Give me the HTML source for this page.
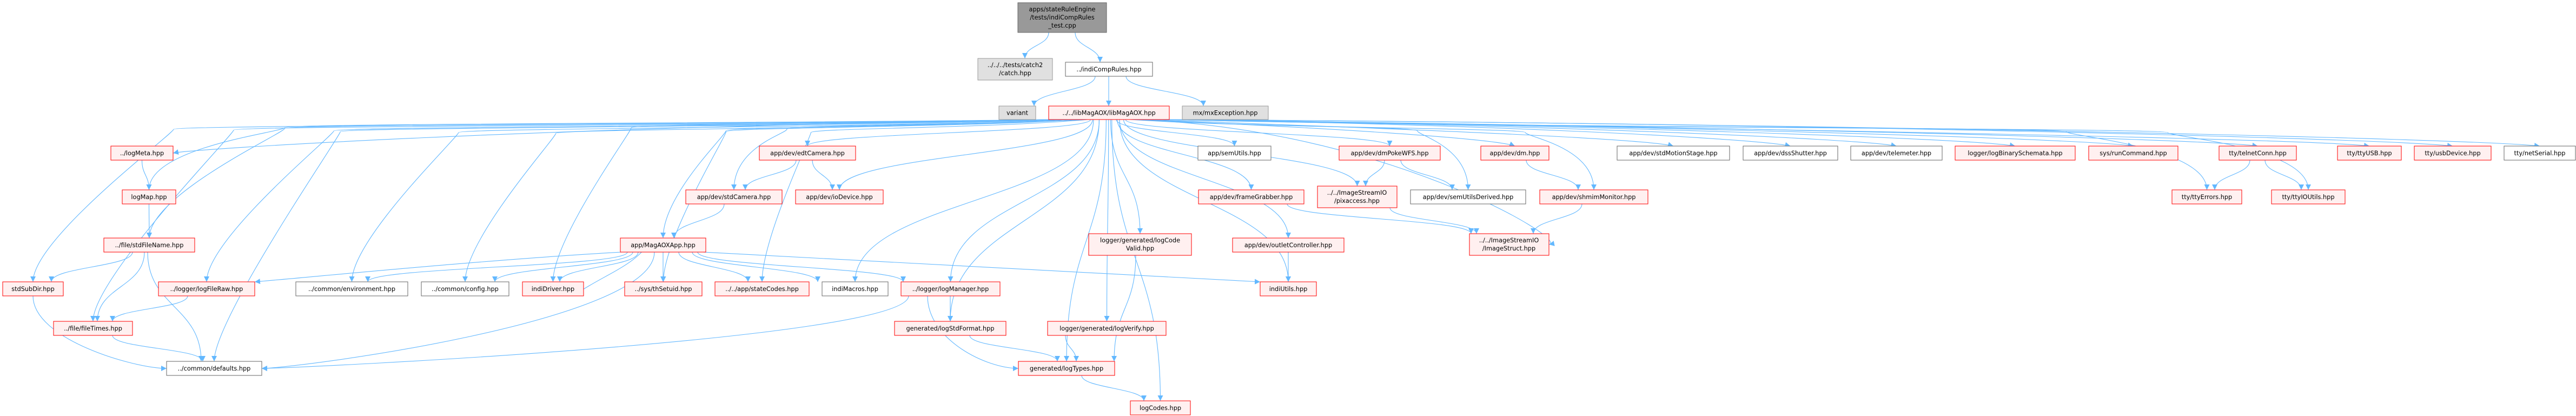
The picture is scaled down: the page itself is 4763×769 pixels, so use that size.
<!DOCTYPE html>
<html><head><meta charset="utf-8">
<style>
html,body{margin:0;padding:0;background:#fff;}
svg{display:block;}
text{font-family:"DejaVu Sans","Liberation Sans",sans-serif;font-size:11.3px;fill:#000;}
</style></head>
<body>
<svg id="g" width="4763" height="769" viewBox="0 0 4763 769" xmlns="http://www.w3.org/2000/svg">
<defs>
<marker id="ah" markerWidth="11" markerHeight="10" refX="10" refY="5" orient="auto" markerUnits="userSpaceOnUse">
<path d="M0,0 L10,5 L0,10 z" fill="#63b8ff"/>
</marker>
</defs>
<g id="edges" fill="none" stroke="#63b8ff" stroke-width="1.1"></g>
<g id="nodes">
<g id="top"><rect x="1882" y="5" width="164" height="55" fill="#999999" stroke="#666666"/><text x="1964" y="21" text-anchor="middle">apps/stateRuleEngine</text><text x="1964" y="36" text-anchor="middle">/tests/indiCompRules</text><text x="1964" y="51" text-anchor="middle">_test.cpp</text></g>
<g><rect x="1808" y="108" width="138" height="40" fill="#e0e0e0" stroke="#999999"/><text x="1877" y="124" text-anchor="middle">../../../tests/catch2</text><text x="1877" y="139" text-anchor="middle">/catch.hpp</text></g>
<g><rect x="2436" y="344" width="147" height="40" fill="#fff0f0" stroke="#ff0000"/><text x="2509" y="360" text-anchor="middle">../../ImageStreamIO</text><text x="2509" y="375" text-anchor="middle">/pixaccess.hpp</text></g>
<g><rect x="2717" y="432" width="147" height="40" fill="#fff0f0" stroke="#ff0000"/><text x="2790" y="448" text-anchor="middle">../../ImageStreamIO</text><text x="2790" y="463" text-anchor="middle">/ImageStruct.hpp</text></g>
<g><rect x="2013" y="432" width="190" height="40" fill="#fff0f0" stroke="#ff0000"/><text x="2108" y="448" text-anchor="middle">logger/generated/logCode</text><text x="2108" y="463" text-anchor="middle">Valid.hpp</text></g>
</g>
</svg>
<script>
(function(){
var NS="http://www.w3.org/2000/svg";
var svg=document.getElementById('g');
var E=document.getElementById('edges'), Nd=document.getElementById('nodes');
// id, x1, x2, y, h, label, style
var N={
top:[1882,2046,5,55],catch_:[1808,1946,108,40],pix:[2436,2583,344,40],istruct:[2717,2864,432,40],lcv:[2013,2203,432,40]
};
var list=[
['icr',1970,2131,115,26,'../indiCompRules.hpp','w'],
['variant',1847,1915,196,25,'variant','g'],
['lib',1939,2162,196,25,'../../libMagAOX/libMagAOX.hpp','r'],
['mx',2186,2345,196,25,'mx/mxException.hpp','g'],
['logMeta',205,320,270,26,'../logMeta.hpp','r'],
['edt',1404,1582,270,26,'app/dev/edtCamera.hpp','r'],
['semU',2215,2350,270,26,'app/semUtils.hpp','w'],
['dmp',2476,2663,270,26,'app/dev/dmPokeWFS.hpp','r'],
['dm',2738,2864,270,26,'app/dev/dm.hpp','r'],
['sms',2990,3198,270,26,'app/dev/stdMotionStage.hpp','w'],
['dss',3223,3398,270,26,'app/dev/dssShutter.hpp','w'],
['tel',3422,3591,270,26,'app/dev/telemeter.hpp','w'],
['lbs',3615,3837,270,26,'logger/logBinarySchemata.hpp','r'],
['run',3862,4027,270,26,'sys/runCommand.hpp','r'],
['telnet',4103,4246,270,26,'tty/telnetConn.hpp','r'],
['usb',4322,4440,270,26,'tty/ttyUSB.hpp','r'],
['usbd',4464,4606,270,26,'tty/usbDevice.hpp','r'],
['net',4630,4762,270,26,'tty/netSerial.hpp','w'],
['logMap',226,325,351,26,'logMap.hpp','r'],
['stdCam',1268,1446,351,26,'app/dev/stdCamera.hpp','r'],
['io',1471,1633,351,26,'app/dev/ioDevice.hpp','r'],
['fg',2216,2411,351,26,'app/dev/frameGrabber.hpp','r'],
['sud',2608,2821,351,26,'app/dev/semUtilsDerived.hpp','w'],
['shm',2847,3047,351,26,'app/dev/shmimMonitor.hpp','r'],
['ttyE',4016,4145,351,26,'tty/ttyErrors.hpp','r'],
['ttyIO',4200,4336,351,26,'tty/ttyIOUtils.hpp','r'],
['sfn',192,360,440,26,'../file/stdFileName.hpp','r'],
['app',1147,1305,440,26,'app/MagAOXApp.hpp','r'],
['outlet',2279,2485,440,26,'app/dev/outletController.hpp','r'],
['ssd',5,117,521,26,'stdSubDir.hpp','r'],
['lfr',293,471,521,26,'../logger/logFileRaw.hpp','r'],
['env',547,754,521,26,'../common/environment.hpp','w'],
['cfg',779,941,521,26,'../common/config.hpp','w'],
['idrv',966,1079,521,26,'indiDriver.hpp','r'],
['ths',1155,1298,521,26,'../sys/thSetuid.hpp','r'],
['sc',1322,1496,521,26,'../../app/stateCodes.hpp','r'],
['imac',1520,1642,521,26,'indiMacros.hpp','w'],
['lm',1666,1849,521,26,'../logger/logManager.hpp','r'],
['iu',2330,2434,521,26,'indiUtils.hpp','r'],
['ft',99,245,594,26,'../file/fileTimes.hpp','r'],
['lsf',1654,1860,594,26,'generated/logStdFormat.hpp','r'],
['lv',1937,2156,594,26,'logger/generated/logVerify.hpp','r'],
['def',308,484,668,26,'../common/defaults.hpp','w'],
['lt',1883,2061,668,26,'generated/logTypes.hpp','r'],
['lc',2090,2201,741,26,'logCodes.hpp','r']
];
var st={r:['#fff0f0','#ff0000'],w:['#ffffff','#666666'],g:['#e0e0e0','#999999']};
list.forEach(function(n){
  N[n[0]]=[n[1],n[2],n[3],n[4]];
  var r=document.createElementNS(NS,'rect');
  r.setAttribute('x',n[1]);r.setAttribute('y',n[3]);r.setAttribute('width',n[2]-n[1]);r.setAttribute('height',n[4]);
  r.setAttribute('fill',st[n[6]][0]);r.setAttribute('stroke',st[n[6]][1]);
  Nd.appendChild(r);
  var t=document.createElementNS(NS,'text');
  t.setAttribute('x',(n[1]+n[2])/2);t.setAttribute('y',n[3]+n[4]/2+4);t.setAttribute('text-anchor','middle');
  t.textContent=n[5];Nd.appendChild(t);
});
N.catch=N.catch_;
function cx(n){return (N[n][0]+N[n][1])/2;}
function bot(n){return N[n][2]+N[n][3];}
function topy(n){return N[n][2];}
function path(d){var p=document.createElementNS(NS,'path');p.setAttribute('d',d);p.setAttribute('marker-end','url(#ah)');E.appendChild(p);}
function e(a,b,o){
  o=o||{};
  var x0=o.sx!==undefined?o.sx:cx(a)+(o.dx||0), y0=bot(a);
  var x1,y1;
  if(o.side==='r'){x1=N[b][1];y1=N[b][2]+N[b][3]/2;}
  else if(o.side==='l'){x1=N[b][0];y1=N[b][2]+N[b][3]/2;}
  else {x1=o.tx!==undefined?o.tx:cx(b)+(o.tdx||0);y1=topy(b);}
  var d;
  if(o.c) d='M'+x0+','+y0+' C'+o.c.join(' ')+' '+x1+','+y1;
  else if(o.side){var m=(y1-y0);d='M'+x0+','+y0+' C'+x0+','+(y0+m*0.6)+' '+(x1+(o.side==='r'?60:-60))+','+y1+' '+x1+','+y1;}
  else {var m=(y1-y0)*0.5;d='M'+x0+','+y0+' C'+x0+','+(y0+m)+' '+x1+','+(y1-m)+' '+x1+','+y1;}
  path(d);
}
// lib edges: flat along top then down
function le(b,o){
  o=o||{};
  var tx=o.tx!==undefined?o.tx:cx(b);
  var sx=Math.max(1945,Math.min(2156,2050+(tx-2050)*0.06));
  var x1=tx,y1=topy(b);
  if(o.side==='r'){x1=N[b][1];y1=N[b][2]+N[b][3]/2;}
  var dx=x1-sx, far=Math.abs(dx)>600;
  var d;
  if(o.side==='r'){ d='M'+sx+','+221+' C'+(sx+dx*0.6)+',236 '+(x1+40)+','+(y1-8)+' '+x1+','+y1; }
  else if(far){
    var by=228+(o.lane||0);
    var bend=x1+(sx>x1?1:-1)*Math.min(260,Math.abs(dx)*0.15);
    d='M'+sx+',221 C'+(sx+dx*0.3)+','+by+' '+(bend)+','+by+' '+(bend)+','+(by+8)+' S'+x1+','+(Math.max(by+30,y1-80))+' '+x1+','+y1;
    if(y1<=280) d='M'+sx+',221 C'+(sx+dx*0.5)+','+(by)+' '+(x1-dx*0.05)+','+(y1-14)+' '+x1+','+y1;
  } else {
    var m=(y1-221)*0.5;
    d='M'+sx+',221 C'+sx+','+(221+m)+' '+x1+','+(y1-m)+' '+x1+','+y1;
  }
  path(d);
}
e('top','catch',{sx:1939,tx:1895});
e('top','icr',{sx:1988,tx:2034});
e('icr','variant',{sx:2025,tx:1912});
e('icr','lib',{sx:2050,tx:2050});
e('icr','mx',{sx:2082,tx:2225});
var libT=['logMeta','logMap','sfn','ssd','ft','lfr','def','env','cfg','idrv','edt','stdCam','io','app','ths','sc','imac','lm','lsf','lt','lv','lcv','lc','outlet','iu','semU','fg','pix','dmp','sud','dm','shm','sms','dss','tel','lbs','run','telnet','ttyE','ttyIO','usb','usbd','net'];
var lane=0;
libT.forEach(function(b){
  if(b==='logMeta'){le(b,{side:'r'});return;}
  le(b,{lane:(lane++%8)*1.5});
});
le('istruct',{side:'r'});
e('logMeta','logMap');
e('logMap','sfn');
e('sfn','ssd',{sx:245,tx:95});
e('sfn','ft',{sx:267,tx:180});
e('sfn','def',{sx:273,tx:372});
e('ssd','def',{side:'l'});
e('lfr','ft',{sx:347,tx:208});
e('ft','def',{sx:208,tx:375});
e('edt','stdCam',{sx:1472,tx:1378});
e('edt','io',{sx:1502,tx:1539});
e('stdCam','app',{sx:1339,tx:1246});
e('app','env',{sx:1160,tx:680});
e('app','cfg',{sx:1170,tx:915});
e('app','idrv',{sx:1180,tx:1035});
e('idrv','app',{sx:1060,tx:1205,c:[1120,505,1180,490]});
e('app','def',{sx:1210,side:'r'});
e('app','ths',{sx:1226,tx:1226});
e('app','sc',{sx:1255,tx:1383});
e('app','imac',{sx:1280,tx:1512});
e('app','lm',{sx:1290,tx:1670});
e('app','iu',{sx:1300,tx:2330,c:[1800,490,2300,520]});
e('app','lfr',{sx:1150,tx:471,c:[900,480,600,510]});
e('lm','lsf',{sx:1757,tx:1757});
e('lm','lt',{sx:1715,side:'l'});
e('lm','def',{sx:1680,side:'r'});
e('lsf','lt',{sx:1793,tx:1955});
e('lv','lt',{sx:1970,tx:1990});
e('lcv','lt',{sx:2100,tx:2060});
e('lt','lc',{sx:2000,tx:2115});
e('dmp','pix',{sx:2560,tx:2525});
e('dmp','sud',{sx:2590,tx:2685});
e('dm','shm',{sx:2822,tx:2918});
e('fg','istruct',{sx:2380,tx:2720});
e('pix','istruct',{sx:2570,tx:2730});
e('shm','istruct',{sx:2925,tx:2835});
e('outlet','iu',{sx:2382,tx:2382});
e('telnet','ttyE',{sx:4160,tx:4095});
e('telnet','ttyIO',{sx:4188,tx:4255});
})();
</script>
</body></html>
